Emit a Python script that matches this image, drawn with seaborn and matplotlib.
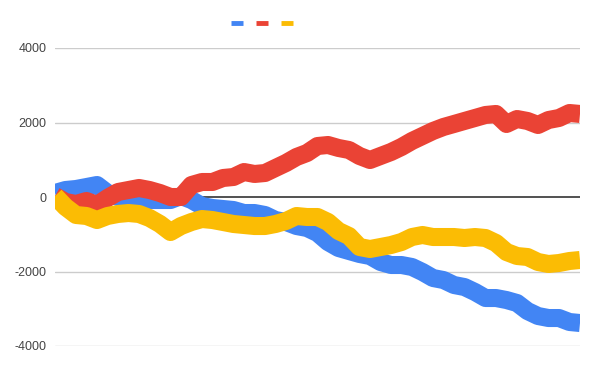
import numpy as np
import pandas as pd
import seaborn as sns
import matplotlib
matplotlib.use("Agg")
import matplotlib.pyplot as plt
from matplotlib.lines import Line2D

# Values (51 evenly spaced samples per series)
series_names = ["A", "B", "C"]
blue_vals = [107, 188, 215, 268, 322, 107, 0, 0, -54, -81, -81, -81, 27, -81, -242,
             -295, -322, -349, -430, -430, -483, -618, -671, -779, -832, -966, -1208,
             -1369, -1450, -1530, -1584, -1745, -1826, -1826, -1879, -2014, -2175,
             -2229, -2363, -2417, -2551, -2712, -2712, -2766, -2846, -3061, -3195,
             -3249, -3249, -3356, -3383]
red_vals = [27, -134, -188, -107, -215, -27, 134, 188, 242, 188, 107, 0, 0, 322, 403,
            403, 510, 537, 671, 618, 644, 779, 913, 1074, 1181, 1369, 1396, 1316, 1262,
            1101, 993, 1101, 1208, 1343, 1504, 1638, 1772, 1880, 1960, 2041, 2121, 2202,
            2229, 1960, 2094, 2041, 1933, 2067, 2121, 2255, 2229]
yellow_vals = [27, -268, -483, -510, -618, -510, -456, -430, -456, -564, -725, -940,
               -779, -671, -591, -618, -671, -725, -752, -779, -779, -725, -644, -510,
               -537, -537, -671, -913, -1047, -1343, -1396, -1343, -1289, -1208, -1074,
               -1020, -1074, -1074, -1074, -1101, -1074, -1101, -1235, -1477, -1584,
               -1611, -1745, -1799, -1772, -1718, -1691]
y_ticks = [-4000, -2000, 0, 2000, 4000]
colors = ["#4285F4", "#EA4335", "#FBBC04"]

n = len(blue_vals)
df = pd.DataFrame({
    "x": list(range(n)) * 3,
    "value": blue_vals + red_vals + yellow_vals,
    "series": [series_names[0]] * n + [series_names[1]] * n + [series_names[2]] * n,
})

sns.set_style("white")
plt.rcParams["font.family"] = ["Liberation Sans", "DejaVu Sans"]

fig = plt.figure(figsize=(5.96, 3.70), dpi=100)
W, H = 596, 370
ax = fig.add_axes([55 / W, (H - 346) / H, (580 - 55) / W, (346 - 48) / H])

sns.lineplot(data=df, x="x", y="value", hue="series", hue_order=series_names,
             palette=colors, linewidth=13, ax=ax, legend=False,
             solid_capstyle="butt", zorder=3)

ax.set_xlim(0, n - 1)
ax.set_ylim(-4000, 4000)
ax.set_yticks(y_ticks)
ax.set_yticklabels([str(t) for t in y_ticks], fontsize=9, color="#444444")
ax.set_xticks([])
ax.set_xlabel("")
ax.set_ylabel("")
for s in ax.spines.values():
    s.set_visible(False)
ax.tick_params(axis="y", length=0, pad=6)
for t in y_ticks:
    if t == 0:
        continue
    ax.axhline(t, color="#cccccc", linewidth=1, zorder=1)
ax.axhline(0, color="#333333", linewidth=1.2, zorder=2)

handles = [Line2D([0], [0], color=c, linewidth=3.5, solid_capstyle="butt") for c in colors]
fig.legend(handles, ["", "", ""], loc="center", bbox_to_anchor=(262 / W, 1 - 24 / H),
           ncol=3, frameon=False, handlelength=0.8, handletextpad=0.0,
           columnspacing=1.0, fontsize=10)

fig.savefig("out.png", dpi=100)
